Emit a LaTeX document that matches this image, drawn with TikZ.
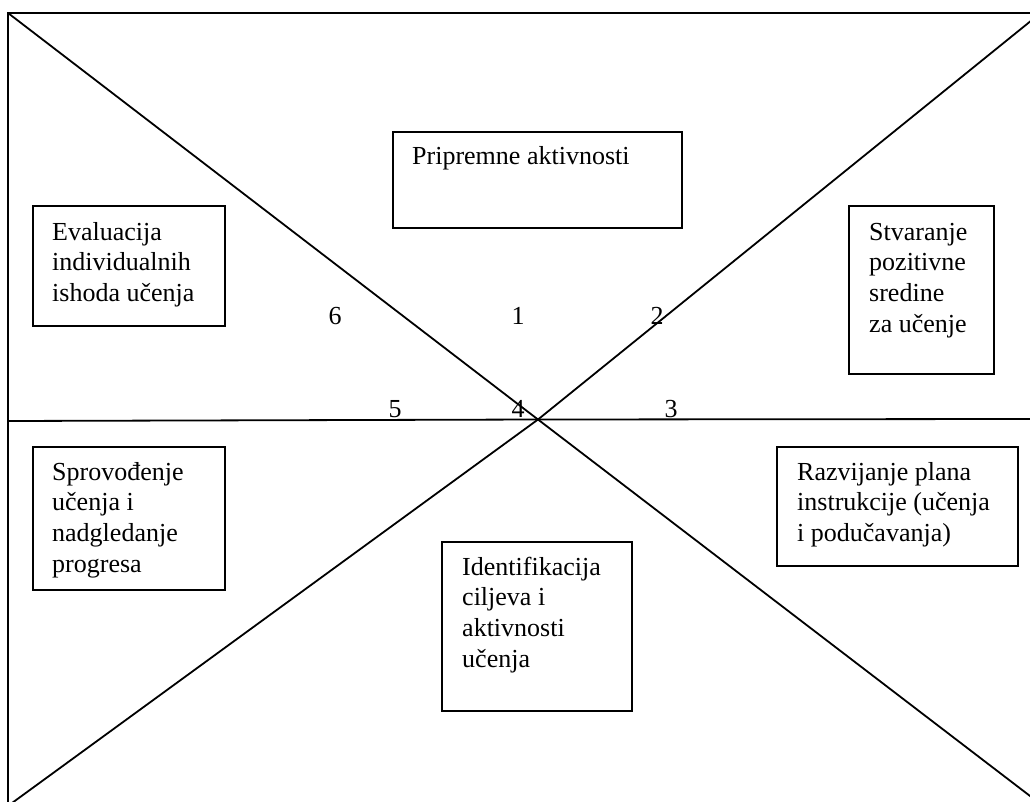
\documentclass[tikz,border=0pt]{standalone}
\usepackage{fontspec}
\setmainfont{Liberation Serif}
\begin{document}
\begin{tikzpicture}[x=1pt,y=-1pt,
  frame/.style={line width=1.8pt},
  box/.style={draw,line width=1.9pt,rectangle,inner sep=0pt,anchor=north west},
  txt/.style={anchor=base west,inner sep=0pt,align=left,font=\fontsize{26}{30.8}\selectfont},
  num/.style={anchor=base,inner sep=0pt,font=\fontsize{26}{30.8}\selectfont}]
\useasboundingbox (0,0) rectangle (1030,802);
% frame coordinates
\coordinate (tl) at (8,13);
\coordinate (tr) at (1032,13);
\coordinate (bl) at (8,804);
\coordinate (c) at (538,419.5);
\coordinate (br) at (1032,797.5);
\coordinate (ur) at (1032,20);
\coordinate (ll) at (12,803);
\coordinate (ml) at (8,421);
\coordinate (mr) at (1032,419);
\draw[frame] (bl) -- (tl) -- (tr);
\draw[frame] (tl) -- (c) -- (br);
\draw[frame] (ur) -- (c) -- (ll);
\draw[frame] (ml) -- (c) -- (mr);
% boxes (text anchored at the baseline of its last line)
\node[box,minimum width=289pt,minimum height=96pt] (prip) at (392,131) {};
\node[txt] (priptxt) at (412,165) {Pripremne aktivnosti};
\node[box,minimum width=145pt,minimum height=168pt] (stv) at (848,205) {};
\node[txt] (stvtxt) at (869,332.4) {Stvaranje\\pozitivne\\sredine\\za učenje};
\node[box,minimum width=241pt,minimum height=119pt] (raz) at (776,446) {};
\node[txt] (raztxt) at (797,541.6) {Razvijanje plana\\instrukcije (učenja\\i podučavanja)};
\node[box,minimum width=192pt,minimum height=120pt] (eval) at (32,205) {};
\node[txt] (evaltxt) at (52,301.6) {Evaluacija\\individualnih\\ishoda učenja};
\node[box,minimum width=192pt,minimum height=143pt] (spr) at (32,446) {};
\node[txt] (sprtxt) at (52,572.4) {Sprovođenje\\učenja i\\nadgledanje\\progresa};
\node[box,minimum width=190pt,minimum height=169pt] (ident) at (441,541) {};
\node[txt] (identtxt) at (462,667.4) {Identifikacija\\ciljeva i\\aktivnosti\\učenja};
% numbers
\node[num] (n6) at (335,324) {6};
\node[num] (n1) at (518,324) {1};
\node[num] (n2) at (657,324) {2};
\node[num] (n5) at (395,417) {5};
\node[num] (n4) at (518,417) {4};
\node[num] (n3) at (671,417) {3};
\end{tikzpicture}
\end{document}
